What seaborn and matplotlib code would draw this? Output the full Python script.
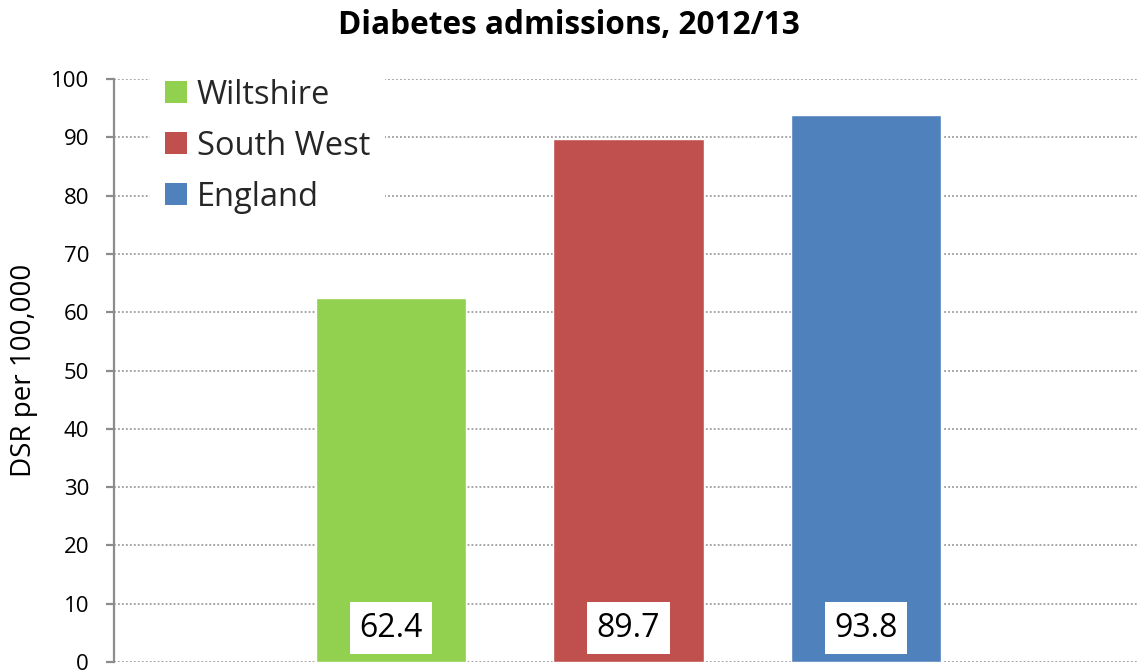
import matplotlib
matplotlib.use("Agg")
import matplotlib.pyplot as plt
from matplotlib.patches import Patch
import seaborn as sns
import pandas as pd

regions = ["Wiltshire", "South West", "England"]
rates = [62.4, 89.7, 93.8]
colors = ["#92D050", "#C0504D", "#4F81BD"]
y_ticks = list(range(0, 101, 10))

sns.set_theme(style="white")
plt.rcParams["font.family"] = ["Open Sans", "DejaVu Sans"]

df = pd.DataFrame({"region": regions, "rate": rates})

fig = plt.figure(figsize=(11.37, 6.70), dpi=100)
ax = fig.add_axes([0.1003, 0.0119, 0.9497, 0.8701])

sns.barplot(data=df, x="region", y="rate", hue="region", palette=colors,
            order=regions, hue_order=regions, width=0.632, dodge=False,
            legend=False, ax=ax, saturation=1)

ax.set_xlim(-1.166, 3.141 + 0.05 * 1137 / 237.5)
ax.set_ylim(0, 100)
ax.set_yticks(y_ticks)
ax.set_xticks([])
ax.set_xlabel("")
ax.set_ylabel("DSR per 100,000", fontsize=20, labelpad=9, color="black")

ax.yaxis.grid(True, linestyle=(0, (1.2, 1.4)), color="#8c8c8c", linewidth=1.1)
ax.set_axisbelow(True)
for side in ["top", "right", "bottom"]:
    ax.spines[side].set_visible(False)
ax.spines["left"].set_color("#8c8c8c")
ax.spines["left"].set_linewidth(1.6)
ax.tick_params(axis="y", direction="out", length=6, width=1.6, color="#8c8c8c",
               labelsize=16, pad=12, left=True, labelcolor="black")

for i, v in enumerate(rates):
    ax.text(i, 5.8, f"{v:.1f}", ha="center", va="center", fontsize=23,
            color="black",
            bbox=dict(boxstyle="square,pad=0.3", facecolor="white", edgecolor="none"))

handles = [Patch(facecolor=c, edgecolor="none") for c in colors]
leg = ax.legend(handles, regions, loc="upper left",
                bbox_to_anchor=(150 / 1137, 1 - 64 / 670),
                bbox_transform=fig.transFigure,
                fontsize=23.5, frameon=True, framealpha=1, facecolor="white",
                edgecolor="none", fancybox=False, handlelength=0.68,
                handleheight=0.68, handletextpad=0.3, labelspacing=0.55,
                borderpad=0.45, borderaxespad=0)

fig.text(0.5, 1 - 25 / 670, "Diabetes admissions, 2012/13", ha="center",
         va="center", fontsize=22.7, fontweight="bold", color="black")

fig.savefig("out.png", dpi=100)
